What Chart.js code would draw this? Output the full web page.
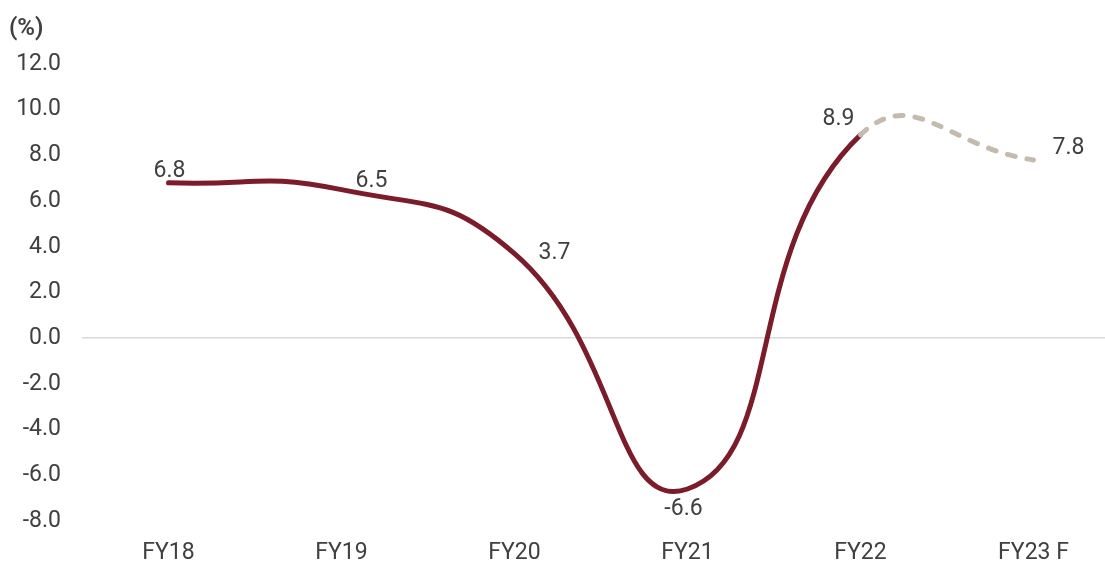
<!DOCTYPE html>
<html>
<head>
<meta charset="utf-8">
<script src="https://cdn.jsdelivr.net/npm/chart.js@4/dist/chart.umd.min.js"></script>
<style>
    html, body { margin: 0; padding: 0; background: #fff; overflow: hidden; }
    #wrap { position: relative; width: 1105px; height: 561px; overflow: hidden; }
    #unit { position: absolute; left: 9px; top: 13px; font: 600 24px Roboto, sans-serif; color: #404040; }
    #box { position: absolute; left: 0; top: 0; width: 1120px; height: 561px; }
</style>
</head>
<body>
<div id="wrap">
    <div id="box"><canvas id="growthChart" width="1120" height="561"></canvas></div>
    <div id="unit">(%)</div>
</div>
<script>
/* Wzrost PKB — linia, ostatni odcinek to prognoza */

const years = ['FY18', 'FY19', 'FY20', 'FY21', 'FY22', 'FY23 F'];
const growth = [6.8, 6.5, 3.7, -6.6, 8.9, 7.8];
const forecastFrom = 4; // od tego punktu linia jest przerywana

// przesunięcia etykiet wartości względem punktu (px)
const labelShift = [[1, -12], [30, -8], [40, 0], [-4, 20], [-22, -16], [35, -12]];

const textColor = '#404040';
const mainColor = '#7b1c2a';
const forecastColor = '#c4bbae';
const tickFont = { family: 'Roboto', size: 23 };

const valueLabels = {
    id: 'valueLabels',
    afterDatasetsDraw(chart) {
        const { ctx } = chart;
        const meta = chart.getDatasetMeta(0);
        ctx.save();
        ctx.font = '23px Roboto';
        ctx.fillStyle = textColor;
        ctx.textAlign = 'center';
        ctx.textBaseline = 'middle';
        meta.data.forEach((pt, i) => {
            const [dx, dy] = labelShift[i];
            ctx.fillText(growth[i].toFixed(1), pt.x + dx, pt.y + dy);
        });
        ctx.restore();
    }
};

new Chart(document.getElementById('growthChart'), {
    type: 'line',
    data: {
        labels: years,
        datasets: [{
            data: growth,
            borderColor: mainColor,
            borderWidth: 5,
            borderCapStyle: 'round',
            borderJoinStyle: 'round',
            tension: 0.5,
            pointRadius: 0,
            segment: {
                borderColor: (c) => (c.p0DataIndex >= forecastFrom ? forecastColor : mainColor),
                borderDash: (c) => (c.p0DataIndex >= forecastFrom ? [8, 12] : [])
            }
        }]
    },
    options: {
        responsive: false,
        animation: false,
        layout: { padding: { top: 64, left: 0, right: 0, bottom: 0 } },
        plugins: {
            legend: { display: false },
            tooltip: { enabled: false }
        },
        scales: {
            x: {
                offset: true,
                grid: { display: false },
                border: { display: false },
                ticks: { color: textColor, font: tickFont, padding: 10, maxRotation: 0 },
                afterFit: (scale) => { scale.height = 40; }
            },
            y: {
                min: -8,
                max: 12,
                border: { display: false },
                grid: {
                    drawTicks: false,
                    lineWidth: 1.5,
                    color: (c) => (c.tick && c.tick.value === 0 ? '#d9d9d9' : 'rgba(0,0,0,0)')
                },
                ticks: {
                    stepSize: 2,
                    color: textColor,
                    font: tickFont,
                    padding: 21,
                    callback: (v) => v.toFixed(1)
                },
                afterFit: (scale) => { scale.width = 82; }
            }
        }
    },
    plugins: [valueLabels]
});
</script>
</body>
</html>
